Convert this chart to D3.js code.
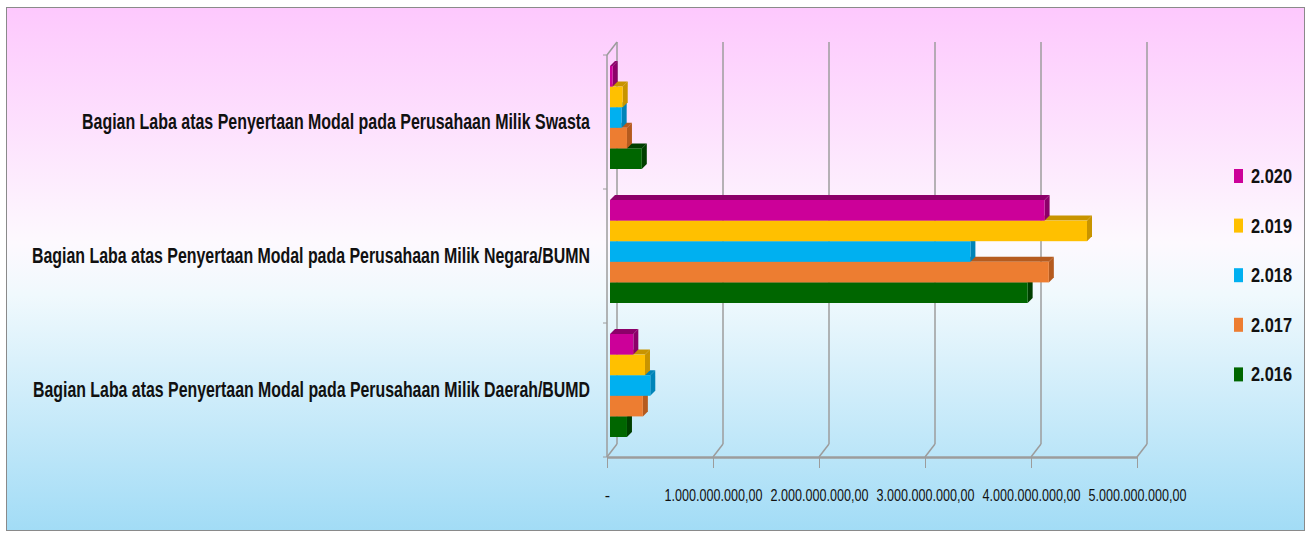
<!DOCTYPE html>
<html><head><meta charset="utf-8">
<script src="https://cdn.jsdelivr.net/npm/d3@7/dist/d3.min.js"></script>
<style>html,body{margin:0;padding:0;background:#fff;}svg{display:block;}</style>
</head><body>
<svg id="c" width="1309" height="537"></svg>
<script>
// ---- data ----
const categories = [
  "Bagian Laba atas Penyertaan Modal pada Perusahaan Milik Swasta",
  "Bagian Laba atas Penyertaan Modal pada Perusahaan Milik Negara/BUMN",
  "Bagian Laba atas Penyertaan Modal pada Perusahaan Milik Daerah/BUMD"
];
const seriesNames = ["2.020", "2.019", "2.018", "2.017", "2.016"];
const values2020 = [25000000, 4100000000, 220000000];
const values2019 = [120000000, 4500000000, 330000000];
const values2018 = [110000000, 3400000000, 380000000];
const values2017 = [160000000, 4140000000, 310000000];
const values2016 = [300000000, 3940000000, 160000000];
const seriesValues = [values2020, values2019, values2018, values2017, values2016];
const seriesColors = ["#cc0099", "#ffc000", "#00b0f0", "#ed7d31", "#006600"];
const seriesSideColors = ["#8c0069", "#c89400", "#0084b8", "#b55b1f", "#003f00"];
const tickValues = [0, 1e9, 2e9, 3e9, 4e9, 5e9];
const tickLabels = ["-", "1.000.000.000,00", "2.000.000.000,00", "3.000.000.000,00", "4.000.000.000,00", "5.000.000.000,00"];

// ---- layout ----
const svg = d3.select("#c");
const defs = svg.append("defs");
const g = defs.append("linearGradient").attr("id", "bg").attr("x1", 0).attr("y1", 0).attr("x2", 0).attr("y2", 1);
g.append("stop").attr("offset", "0%").attr("stop-color", "#fdc8fd");
g.append("stop").attr("offset", "45%").attr("stop-color", "#fdf9fe");
g.append("stop").attr("offset", "55%").attr("stop-color", "#f0f9fd");
g.append("stop").attr("offset", "100%").attr("stop-color", "#a2dcf6");

svg.append("rect").attr("x", 6.5).attr("y", 7.5).attr("width", 1298).attr("height", 523)
  .attr("fill", "url(#bg)").attr("stroke", "#8a8a8a").attr("stroke-width", 1);

const DX = 10, DY = -13;      // wall depth
const BDX = 5, BDY = -5;      // bar depth
const x = d3.scaleLinear().domain([0, 5e9]).range([607, 1137]);
const y = d3.scaleBand().domain(categories).range([55, 457]).padding(0);
const ys = d3.scaleBand().domain(seriesNames).range([11, 114]).padding(0);

const gridColor = "#9c9c9c";
const grid = svg.append("g");
tickValues.forEach(v => {
  const xf = x(v), xb = x(v) + DX;
  grid.append("line").attr("x1", xb).attr("x2", xb).attr("y1", 55 + DY).attr("y2", 457 + DY)
    .attr("stroke", gridColor).attr("stroke-width", 1.5);
  grid.append("line").attr("x1", xf).attr("x2", xb).attr("y1", 457).attr("y2", 457 + DY)
    .attr("stroke", gridColor).attr("stroke-width", 1.5);
});
grid.append("line").attr("x1", x(0)).attr("x2", x(0)).attr("y1", 55).attr("y2", 457)
  .attr("stroke", gridColor).attr("stroke-width", 1.5);
grid.append("line").attr("x1", x(0)).attr("x2", x(0) + DX).attr("y1", 55).attr("y2", 55 + DY)
  .attr("stroke", gridColor).attr("stroke-width", 1.5);
const bounds = categories.map(c => y(c)).concat([y.range()[1]]);
bounds.forEach(b => {
  grid.append("line").attr("x1", x(0) - 4).attr("x2", x(0)).attr("y1", b).attr("y2", b)
    .attr("stroke", gridColor).attr("stroke-width", 1);
});

// x axis (front floor edge)
const xAxis = d3.axisBottom(x).tickValues(tickValues).tickFormat((d, i) => tickLabels[i])
  .tickSizeInner(11).tickSizeOuter(0);
const ax = svg.append("g").attr("transform", "translate(0,457)").call(xAxis);
ax.select(".domain").attr("stroke", gridColor).attr("stroke-width", 2.5);
ax.selectAll(".tick line").attr("stroke", gridColor).attr("stroke-width", 1);
ax.selectAll(".tick text")
  .attr("y", 44).attr("dy", 0)
  .attr("fill", "#111")
  .attr("font-family", "'Liberation Sans',Arial,sans-serif")
  .attr("font-size", 16)
  .each(function (d, i) {
    if (i > 0) {
      const len = this.getComputedTextLength();
      d3.select(this).attr("transform", `scale(${98 / len},1)`);
    }
  });

// bars (bottom series first so upper bars cover lower bars' top faces)
const barsG = svg.append("g");
for (let s = seriesNames.length - 1; s >= 0; s--) {
  categories.forEach((c, ci) => {
    const v = seriesValues[s][ci];
    const x0 = x(0) + 3, x1 = x(v) + 3;
    const y0 = y(c) + ys(seriesNames[s]), h = ys.bandwidth();
    const w = Math.max(x1 - x0, 1);
    barsG.append("path")
      .attr("d", `M${x0 + w},${y0} L${x0 + w + BDX},${y0 + BDY} L${x0 + w + BDX},${y0 + h + BDY} L${x0 + w},${y0 + h} Z`)
      .attr("fill", seriesSideColors[s]);
    barsG.append("path")
      .attr("d", `M${x0},${y0} L${x0 + BDX},${y0 + BDY} L${x0 + w + BDX},${y0 + BDY} L${x0 + w},${y0} Z`)
      .attr("fill", seriesSideColors[s]);
    barsG.append("rect").attr("x", x0).attr("y", y0).attr("width", w).attr("height", h)
      .attr("fill", seriesColors[s]);
  });
}

// category labels
const labelWidths = [508, 558, 557];
svg.append("g").selectAll("text").data(categories).join("text")
  .attr("x", 590).attr("y", d => y(d) + y.bandwidth() / 2 + 7)
  .attr("text-anchor", "end")
  .attr("font-family", "'Liberation Sans',Arial,sans-serif")
  .attr("font-weight", "bold").attr("font-size", 22)
  .attr("fill", "#111")
  .attr("textLength", (d, i) => labelWidths[i]).attr("lengthAdjust", "spacingAndGlyphs")
  .text(d => d);

// legend
const lg = svg.append("g");
seriesNames.forEach((n, i) => {
  const by = 183 + i * 49.6;
  lg.append("rect").attr("x", 1234).attr("y", by - 14).attr("width", 9).attr("height", 14)
    .attr("fill", seriesColors[i]);
  lg.append("text").attr("x", 1251).attr("y", by)
    .attr("font-family", "'Liberation Sans',Arial,sans-serif")
    .attr("font-weight", "bold").attr("font-size", 21).attr("fill", "#111")
    .attr("textLength", 41).attr("lengthAdjust", "spacingAndGlyphs")
    .text(n);
});
</script>
</body></html>
